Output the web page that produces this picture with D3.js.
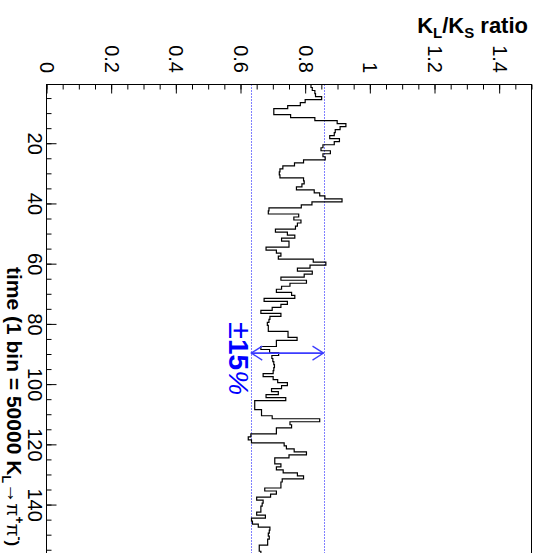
<!DOCTYPE html>
<html>
<head>
<meta charset="utf-8">
<script src="https://cdn.jsdelivr.net/npm/d3@7"></script>
<style>
  html, body { margin: 0; padding: 0; background: #fff; }
  svg { display: block; font-family: "Liberation Sans", Arial, Helvetica, sans-serif; }
</style>
</head>
<body>
<svg id="chart" width="539" height="553"></svg>
<script>
// K_L / K_S ratio per time bin (1 bin = 50000 K_L -> pi+ pi- decays), bins 1..156
const ratio = [
  0.818, 0.822, 0.830, 0.832, 0.851, 0.800, 0.785, 0.746, 0.703, 0.703,
  0.755, 0.830, 0.899, 0.926, 0.908, 0.893, 0.890, 0.876, 0.906, 0.890,
  0.855, 0.849, 0.878, 0.855, 0.862, 0.795, 0.767, 0.731, 0.722, 0.720,
  0.722, 0.795, 0.797, 0.790, 0.773, 0.828, 0.845, 0.861, 0.914, 0.821,
  0.788, 0.688, 0.686, 0.780, 0.765, 0.787, 0.776, 0.770, 0.708, 0.745,
  0.768, 0.727, 0.750, 0.750, 0.679, 0.711, 0.725, 0.717, 0.825, 0.864,
  0.815, 0.776, 0.822, 0.797, 0.725, 0.804, 0.753, 0.727, 0.711, 0.758,
  0.768, 0.673, 0.745, 0.725, 0.698, 0.663, 0.725, 0.691, 0.688, 0.683,
  0.686, 0.686, 0.747, 0.747, 0.775, 0.711, 0.711, 0.663, 0.690, 0.718,
  0.697, 0.700, 0.703, 0.705, 0.703, 0.701, 0.670, 0.701, 0.715, 0.745,
  0.727, 0.696, 0.717, 0.679, 0.740, 0.644, 0.644, 0.644, 0.665, 0.665,
  0.698, 0.845, 0.753, 0.758, 0.711, 0.711, 0.632, 0.624, 0.634, 0.735,
  0.742, 0.766, 0.804, 0.750, 0.706, 0.706, 0.725, 0.711, 0.732, 0.776,
  0.795, 0.729, 0.725, 0.725, 0.675, 0.711, 0.693, 0.650, 0.670, 0.667,
  0.663, 0.663, 0.650, 0.677, 0.634, 0.637, 0.655, 0.691, 0.689, 0.686,
  0.689, 0.684, 0.684, 0.658, 0.658, 0.663
];

// Axis ticks
const ratioTicks = [0, 0.2, 0.4, 0.6, 0.8, 1, 1.2, 1.4];
const ratioTickLabels = ["0", "0.2", "0.4", "0.6", "0.8", "1", "1.2", "1.4"];
const ratioMinorTicks = d3.range(0, 1.5001, 0.05);
const timeTicks = [20, 40, 60, 80, 100, 120, 140];
const timeMinorTicks = d3.range(5, 161, 5);

// Reference band: mean ratio and +/-15 %
const ratioMean = 0.745;
const bandFrac = 0.15;
const arrowTime = 89.7;

// Plot frame (time runs downwards, ratio runs to the right)
const frame = { left: 46.5, right: 531.5, top: 84.5, bottom: 566.3 };
const ratioDomain = [0, 1.5];
const timeDomain = [0.5, 160.5];

const svg = d3.select("#chart");
const x = d3.scaleLinear().domain(ratioDomain).range([frame.left, frame.right]);
const y = d3.scaleLinear().domain(timeDomain).range([frame.top, frame.bottom]);

const blue = "#0000ff";
const lo = ratioMean * (1 - bandFrac);
const hi = ratioMean * (1 + bandFrac);

// dotted band limits
svg.selectAll("line.band")
  .data([lo, hi])
  .join("line")
  .attr("class", "band")
  .attr("x1", d => Math.round(x(d)) + 0.5).attr("x2", d => Math.round(x(d)) + 0.5)
  .attr("y1", frame.top).attr("y2", frame.bottom)
  .attr("stroke", blue).attr("stroke-width", 1)
  .attr("stroke-dasharray", "1,2");

// histogram outline as a step line
const pts = [];
ratio.forEach((v, i) => {
  const bin = i + 1;
  pts.push([x(v), y(bin - 0.5)]);
  pts.push([x(v), y(bin + 0.5)]);
});
svg.append("path")
  .attr("d", d3.line()(pts))
  .attr("fill", "none")
  .attr("stroke", "#000")
  .attr("stroke-width", 1.2);

// ratio axis along the top edge, ticks pointing inwards
const gTop = svg.append("g").attr("transform", `translate(0,${frame.top})`);
gTop.call(d3.axisTop(x).tickValues(ratioMinorTicks).tickSizeInner(-5).tickSizeOuter(0).tickFormat(""));
gTop.append("g").call(
  d3.axisTop(x).tickValues(ratioTicks).tickSizeInner(-9).tickSizeOuter(0)
    .tickFormat((d, i) => ratioTickLabels[i])
);
gTop.selectAll(".domain").remove();
gTop.selectAll("line").attr("stroke", "#000").attr("stroke-width", 1);
gTop.selectAll("text")
  .attr("x", null).attr("y", null).attr("dy", null)
  .attr("transform", `translate(-7,${73 - frame.top}) rotate(90)`)
  .attr("text-anchor", "end")
  .attr("font-size", 20)
  .attr("fill", "#000");

// time axis along the left edge, ticks pointing inwards
const gLeft = svg.append("g").attr("transform", `translate(${frame.left},0)`);
gLeft.call(d3.axisLeft(y).tickValues(timeMinorTicks).tickSizeInner(-5).tickSizeOuter(0).tickFormat(""));
gLeft.append("g").call(
  d3.axisLeft(y).tickValues(timeTicks).tickSizeInner(-10).tickSizeOuter(0).tickFormat(d3.format("d"))
);
gLeft.selectAll(".domain").remove();
gLeft.selectAll("line").attr("stroke", "#000").attr("stroke-width", 1);
gLeft.selectAll("text")
  .attr("x", null).attr("y", null).attr("dy", null)
  .attr("transform", `translate(${27.7 - frame.left},0) rotate(90)`)
  .attr("text-anchor", "middle")
  .attr("font-size", 20)
  .attr("fill", "#000");

// frame
svg.append("rect")
  .attr("x", frame.left).attr("y", frame.top)
  .attr("width", frame.right - frame.left).attr("height", frame.bottom - frame.top)
  .attr("fill", "none").attr("stroke", "#000").attr("stroke-width", 1);

// +/-15 % double arrow
const ay = y(arrowTime);
const arrowColor = "#3c3cff";
svg.append("line")
  .attr("x1", x(lo)).attr("x2", x(hi)).attr("y1", ay).attr("y2", ay)
  .attr("stroke", arrowColor).attr("stroke-width", 1.6);
[[x(lo), 1], [x(hi), -1]].forEach(([tx, dir]) => {
  svg.append("path")
    .attr("d", d3.line()([[tx + dir * 11, ay - 7], [tx, ay], [tx + dir * 11, ay + 7]]))
    .attr("fill", "none").attr("stroke", arrowColor).attr("stroke-width", 1.3);
});

const pm = svg.append("text")
  .attr("transform", `translate(229,322) rotate(90)`)
  .attr("fill", blue).attr("font-size", 28);
pm.append("tspan").attr("font-size", 31).text("\u00b1");
pm.append("tspan").attr("font-weight", "bold").text("15");
pm.append("tspan").attr("font-style", "italic").text("%");

// axis titles
const yTitle = svg.append("text")
  .attr("x", 528).attr("y", 33)
  .attr("text-anchor", "end")
  .attr("font-size", 22).attr("font-weight", "bold").attr("fill", "#000");
yTitle.append("tspan").text("K");
yTitle.append("tspan").attr("font-size", 15).attr("dy", 5).text("L");
yTitle.append("tspan").attr("dy", -5).text("/K");
yTitle.append("tspan").attr("font-size", 15).attr("dy", 5).text("S");
yTitle.append("tspan").attr("dy", -5).text(" ratio");

const xTitle = svg.append("text")
  .attr("transform", `translate(7,267) rotate(90)`)
  .attr("text-anchor", "start")
  .attr("font-size", 21).attr("font-weight", "bold").attr("fill", "#000");
xTitle.append("tspan").text("time (1 bin = 50000 K");
xTitle.append("tspan").attr("font-size", 13).attr("dy", 5).text("L");
xTitle.append("tspan").attr("dy", -5).attr("font-size", 20).attr("font-weight", "normal").text("\u2192");
xTitle.append("tspan").attr("font-size", 19).attr("font-weight", "normal").text("\u03c0");
xTitle.append("tspan").attr("font-size", 12).attr("dy", -8).text("+");
xTitle.append("tspan").attr("dy", 8).attr("font-size", 19).attr("font-weight", "normal").text("\u03c0");
xTitle.append("tspan").attr("font-size", 12).attr("dy", -8).text("-");
xTitle.append("tspan").attr("dy", 8).attr("font-size", 17).text(")");
</script>
</body>
</html>
